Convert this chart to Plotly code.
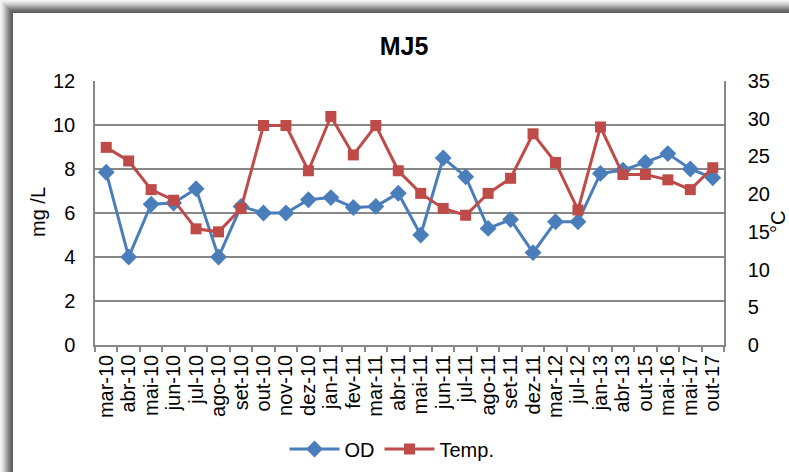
import plotly.graph_objects as go

categories = ["mar-10", "abr-10", "mai-10", "jun-10", "jul-10", "ago-10", "set-10",
              "out-10", "nov-10", "dez-10", "jan-11", "fev-11", "mar-11", "abr-11",
              "mai-11", "jun-11", "jul-11", "ago-11", "set-11", "dez-11", "mar-12",
              "jul-12", "jan-13", "abr-13", "out-15", "mai-16", "mai-17", "out-17"]
od_values = [7.85, 4.0, 6.4, 6.45, 7.1, 4.0, 6.3, 6.0, 6.0, 6.6, 6.7, 6.25, 6.3, 6.9,
             5.0, 8.5, 7.65, 5.3, 5.7, 4.2, 5.6, 5.6, 7.8, 7.95, 8.3, 8.7, 8.0, 7.6]
temp_values = [26.2, 24.4, 20.6, 19.2, 15.4, 15.0, 18.1, 29.1, 29.1, 23.1, 30.3, 25.2,
               29.1, 23.1, 20.1, 18.1, 17.2, 20.1, 22.1, 28.0, 24.2, 17.9, 28.9, 22.6,
               22.6, 21.9, 20.6, 23.5]

W, H = 789, 472
ML, MR, MT, MB = 95, 65, 81, 127
PW, PH = W - ML - MR, H - MT - MB


def px_x(px):
    return (px - ML) / PW


def px_y(py):
    return (H - MB - py) / PH


fig = go.Figure()
fig.add_trace(go.Scatter(
    x=categories, y=od_values, name="OD", mode="lines+markers",
    line=dict(color="#4A7EBB", width=3),
    marker=dict(symbol="diamond", size=13, color="#4A7EBB"),
    yaxis="y"))
fig.add_trace(go.Scatter(
    x=categories, y=temp_values, name="Temp.", mode="lines+markers",
    line=dict(color="#BE4B48", width=3),
    marker=dict(symbol="square", size=11, color="#BE4B48"),
    yaxis="y2"))

font_family = "Liberation Sans, Arial, sans-serif"
FS = 20

# decorative frame shadow (left and top edges)
shapes = []
shade = ["#f4f4f4", "#ececec", "#e2e2e2", "#d6d6d6", "#c8c8c8", "#b8b8b8",
         "#a8a8a8", "#989898", "#888888", "#7a7a7a", "#6e6e6e", "#666666", "#5e5e5e"]
for i, c in enumerate(shade):
    shapes.append(dict(type="rect", xref="paper", yref="paper",
                       x0=px_x(i), x1=px_x(i + 1), y0=px_y(H + 5), y1=px_y(i),
                       fillcolor=c, line=dict(width=0), layer="above"))
    shapes.append(dict(type="rect", xref="paper", yref="paper",
                       x0=px_x(i), x1=px_x(W + 5), y0=px_y(i + 1), y1=px_y(i),
                       fillcolor=c, line=dict(width=0), layer="above"))

fig.update_layout(
    width=W, height=H,
    margin=dict(l=ML, r=MR, t=MT, b=MB, autoexpand=False),
    paper_bgcolor="white", plot_bgcolor="white",
    font=dict(family=font_family, size=FS, color="#000000"),
    title=dict(text="<b>MJ5</b>", x=404 / W, xanchor="center",
               y=1 - 46 / H, yanchor="middle",
               font=dict(family=font_family, size=25, color="#000000")),
    xaxis=dict(type="category", range=[-0.5, len(categories) - 0.5],
               tickmode="linear", tick0=0, dtick=1, automargin=False,
               tickangle=-90, showgrid=False, showline=True, linecolor="#878787",
               linewidth=1.5, ticks="outside", ticklen=5, tickcolor="#878787",
               tickwidth=1.5, tickson="boundaries",
               tickfont=dict(size=FS), mirror=False),
    yaxis=dict(range=[0, 12], dtick=2, showgrid=True, gridcolor="#878787",
               gridwidth=1.5, showline=True, linecolor="#878787", linewidth=1.5,
               ticks="", ticklabelstandoff=14, zeroline=False, automargin=False,
               tickfont=dict(size=FS)),
    yaxis2=dict(range=[0, 35], dtick=5, overlaying="y", side="right",
                showgrid=False, showline=True, linecolor="#878787", linewidth=1.5,
                ticks="", ticklabelstandoff=18, zeroline=False, automargin=False,
                tickfont=dict(size=FS)),
    legend=dict(orientation="h", x=px_x(392), y=px_y(449), xanchor="center",
                yanchor="middle", font=dict(size=FS), itemwidth=50,
                bgcolor="rgba(0,0,0,0)"),
    showlegend=True,
    shapes=shapes,
    annotations=[
        dict(text="mg /L", xref="paper", yref="paper", x=px_x(38), y=px_y(212),
             xanchor="center", yanchor="middle", textangle=-90, showarrow=False,
             font=dict(size=FS)),
        dict(text="°C", xref="paper", yref="paper", x=px_x(778), y=px_y(222),
             xanchor="center", yanchor="middle", textangle=-90, showarrow=False,
             font=dict(size=FS)),
    ],
)

fig.write_html("out.html")
